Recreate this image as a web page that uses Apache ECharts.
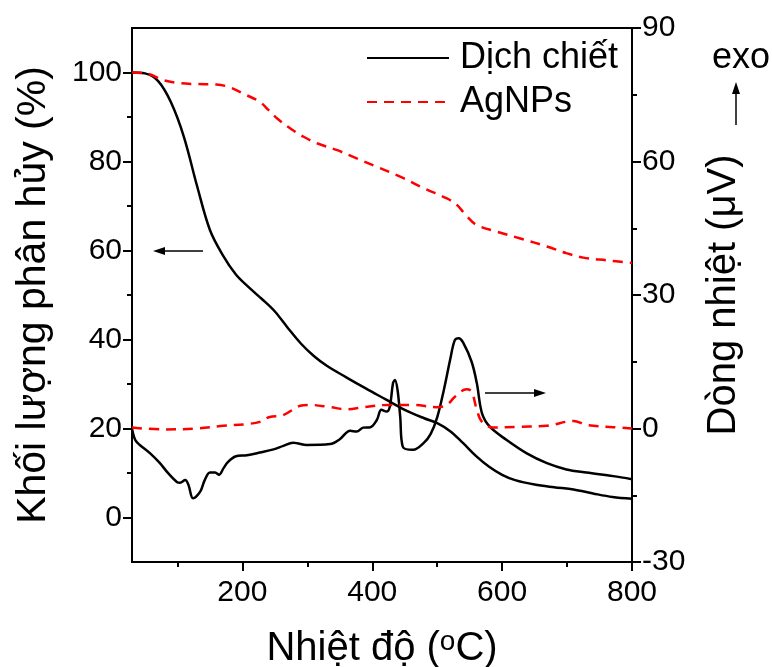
<!DOCTYPE html>
<html>
<head>
<meta charset="utf-8">
<script src="https://cdn.jsdelivr.net/npm/echarts@6/dist/echarts.min.js"></script>
<style>html,body{margin:0;padding:0;background:#fff}#c{width:772px;height:667px}</style>
</head>
<body>
<div id="c"></div>
<script>
// Temperature (°C) / value pairs
const tgaExtract = [[30,100],[50,99.8],[70,98.1],[90,93.3],[110,85.5],[130,74.6],[150,64.6],[170,58.9],[190,54.6],[210,51.7],[230,49.1],[250,46.3],[270,42.6],[290,39.1],[310,36.3],[330,34.1],[360,31.5],[390,29.0],[420,26.6],[450,24.2],[480,22.3],[500,21.2],[520,19.4],[540,16.7],[560,13.8],[580,11.4],[600,9.6],[620,8.4],[650,7.4],[680,6.8],[710,6.3],[740,5.4],[770,4.6],[800,4.2]];
const tgaAg = [[30,100],[55,99.7],[80,98.2],[105,97.6],[130,97.4],[160,97.3],[180,96.7],[205,95.0],[227,93.4],[240,91.6],[255,89.5],[275,87.3],[295,85.5],[315,84.1],[345,82.6],[376,80.7],[407,78.8],[443,76.6],[479,74.0],[515,71.7],[530,70.3],[545,67.8],[560,65.8],[590,64.3],[628,62.7],[669,60.9],[699,59.4],[725,58.4],[760,57.8],[800,57.2]];
const dtaExtract = [[30,0],[35,-2.6],[42,-3.7],[58,-5.6],[73,-7.8],[86,-10.1],[99,-12],[104,-12.2],[112,-11.6],[117,-12.7],[124,-15.7],[135,-14.2],[142,-11.6],[150,-9.9],[158,-9.9],[164,-10.4],[171,-8.9],[178,-7.5],[189,-6.3],[207,-6],[227,-5.4],[248,-4.7],[263,-3.9],[278,-3.2],[284,-3.3],[299,-3.7],[335,-3.5],[350,-2.4],[366,-0.5],[376,-0.7],[386,0.2],[397,0.3],[407,1.9],[414,4.2],[422,3.8],[427,4.9],[432,10.2],[435,10.9],[439,8.6],[443,2.7],[447,-4.1],[463,-4.8],[479,-3.3],[490,-1.2],[500,2.5],[510,8.5],[520,15.5],[527,19.8],[533,20.3],[540,19.3],[553,15],[561,10.2],[569,3.4],[581,0.4],[607,-2.6],[638,-5.6],[669,-7.8],[699,-9.2],[730,-9.9],[771,-10.7],[800,-11.4]];
const dtaAg = [[30,0.2],[78,-0.2],[130,0],[171,0.6],[207,1],[227,1.5],[242,2.6],[263,3],[289,5.1],[304,5.3],[335,4.8],[361,4.3],[386,4.8],[425,5.3],[463,5.3],[499,4.8],[515,5.3],[527,7.1],[545,8.8],[553,8.3],[561,4.2],[569,1.5],[586,0.2],[628,0.4],[669,0.6],[710,1.7],[730,0.8],[771,0.3],[800,0]];
const xMajorTicks = [200,400,600,800];
const xMinorTicks = [100,300,500,700];
const leftMajorTicks = [0,20,40,60,80,100];
const leftMinorTicks = [10,30,50,70,90];
const seriesNames = ['Dịch chiết','AgNPs'];

const FF = 'Liberation Sans';
const chart = echarts.init(document.getElementById('c'));
const black = '#000000', red = '#ff0000';
const lineCommon = {type: 'line', symbol: 'none', showSymbol: false, smooth: 0.35, xAxisIndex: 0};
chart.setOption({
  animation: false,
  textStyle: {fontFamily: FF},
  grid: {left: 132, right: 140, top: 28, bottom: 105, outerBoundsMode: 'none', containLabel: false, show: true, borderColor: '#000', borderWidth: 2},
  legend: {
    data: seriesNames, orient: 'vertical', left: 366, top: 36, padding: 0,
    itemWidth: 82, itemHeight: 14, itemGap: 0,
    itemStyle: {opacity: 0},
    textStyle: {fontSize: 36, lineHeight: 44, color: '#000', fontFamily: FF, padding: [0,0,0,6]}
  },
  xAxis: [{
    type: 'value', min: 30, max: 800,
    name: '{a|Nhiệt độ (}{s|o}{a|C)}', nameLocation: 'middle', nameGap: 66,
    nameTextStyle: {rich: {a: {fontSize: 40, fontFamily: FF, color: '#000'}, s: {fontSize: 28, fontFamily: FF, color: '#000', verticalAlign: 'top', padding: [0,0,14,0]}}},
    axisLine: {show: true, onZero: false, lineStyle: {color: '#000', width: 2}},
    axisTick: {show: true, inside: false, length: 9, customValues: xMajorTicks, lineStyle: {color: '#000', width: 2}},
    axisLabel: {customValues: xMajorTicks, fontSize: 30, color: '#000', margin: 16, fontFamily: FF},
    splitLine: {show: false}
  }, {
    type: 'value', min: 30, max: 800, position: 'bottom',
    axisLine: {show: false, onZero: false},
    axisTick: {show: true, length: 5, customValues: xMinorTicks, lineStyle: {color: '#000', width: 2}},
    axisLabel: {show: false}, splitLine: {show: false}
  }],
  yAxis: [{
    type: 'value', min: -10, max: 110, position: 'left',
    name: 'Khối lượng phân hủy (%)', nameLocation: 'middle', nameGap: 78, nameRotate: 90,
    nameTextStyle: {fontSize: 41, color: '#000', fontFamily: FF},
    axisLine: {show: true, onZero: false, lineStyle: {color: '#000', width: 2}},
    axisTick: {show: true, length: 9, customValues: leftMajorTicks, lineStyle: {color: '#000', width: 2}},
    axisLabel: {customValues: leftMajorTicks, fontSize: 30, color: '#000', margin: 10, fontFamily: FF},
    splitLine: {show: false}
  }, {
    type: 'value', min: -30, max: 90, interval: 30, position: 'right',
    name: 'Dòng nhiệt (μV)', nameLocation: 'middle', nameGap: 72, nameRotate: 90,
    nameTextStyle: {fontSize: 40, color: '#000', fontFamily: FF},
    axisLine: {show: true, onZero: false, lineStyle: {color: '#000', width: 2}},
    axisTick: {show: true, length: 9, lineStyle: {color: '#000', width: 2}},
    minorTick: {show: true, splitNumber: 2, length: 5, lineStyle: {color: '#000', width: 2}},
    axisLabel: {fontSize: 30, color: '#000', margin: 10, fontFamily: FF},
    splitLine: {show: false}
  }, {
    type: 'value', min: -10, max: 110, position: 'left',
    axisLine: {show: false, onZero: false},
    axisTick: {show: true, length: 5, customValues: leftMinorTicks, lineStyle: {color: '#000', width: 2}},
    axisLabel: {show: false}, splitLine: {show: false}
  }],
  series: [
    Object.assign({}, lineCommon, {name: seriesNames[0], data: tgaExtract, yAxisIndex: 0, lineStyle: {color: black, width: 2.5}, itemStyle: {color: black}}),
    Object.assign({}, lineCommon, {name: seriesNames[1], data: tgaAg, yAxisIndex: 0, lineStyle: {color: red, width: 2.5, type: [10,7]}, itemStyle: {color: red}}),
    Object.assign({}, lineCommon, {name: seriesNames[0], data: dtaExtract, yAxisIndex: 1, lineStyle: {color: black, width: 2.5}, itemStyle: {color: black}}),
    Object.assign({}, lineCommon, {name: seriesNames[1], data: dtaAg, yAxisIndex: 1, lineStyle: {color: red, width: 2.5, type: [10,7]}, itemStyle: {color: red}})
  ],
  graphic: [
    {type: 'line', shape: {x1: 203, y1: 251, x2: 162, y2: 251}, style: {stroke: '#000', lineWidth: 1.5}},
    {type: 'polygon', shape: {points: [[153,251],[165,247],[165,255]]}, style: {fill: '#000'}},
    {type: 'line', shape: {x1: 485, y1: 393, x2: 536, y2: 393}, style: {stroke: '#000', lineWidth: 1.5}},
    {type: 'polygon', shape: {points: [[546,393],[534,389],[534,397]]}, style: {fill: '#000'}},
    {type: 'line', shape: {x1: 736, y1: 125, x2: 736, y2: 92}, style: {stroke: '#000', lineWidth: 1.5}},
    {type: 'polygon', shape: {points: [[736,82],[732,94],[740,94]]}, style: {fill: '#000'}},
    {type: 'text', style: {text: 'exo', x: 741, y: 58, align: 'center', verticalAlign: 'middle', fontSize: 36, fontFamily: FF, fill: '#000'}}
  ]
});
</script>
</body>
</html>
